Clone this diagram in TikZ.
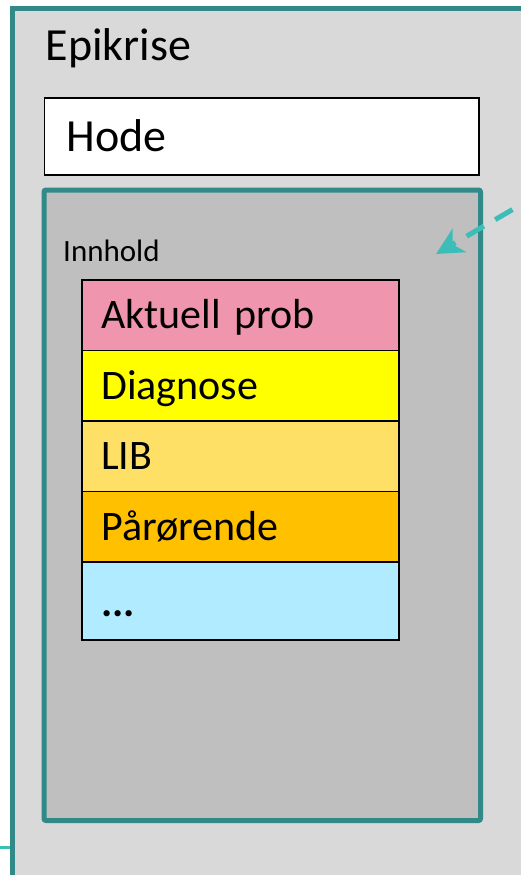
\documentclass[tikz,border=0pt]{standalone}
\usepackage{fontspec}
\setmainfont{Carlito}
\usetikzlibrary{arrows.meta}
\definecolor{tealborder}{RGB}{49,138,136}
\definecolor{tealarrow}{RGB}{60,189,184}
\definecolor{outerfill}{RGB}{217,217,217}
\definecolor{innerfill}{RGB}{191,191,191}
\definecolor{pinkrow}{RGB}{240,149,174}
\definecolor{yellowrow}{RGB}{255,255,0}
\definecolor{lightyellowrow}{RGB}{255,224,102}
\definecolor{orangerow}{RGB}{255,192,0}
\definecolor{bluerow}{RGB}{176,235,255}
\begin{document}
\begin{tikzpicture}[x=1pt,y=-1pt,
  outerbox/.style={draw=tealborder, line width=5pt, fill=outerfill, inner sep=0pt, anchor=north west},
  innerbox/.style={draw=tealborder, line width=5pt, fill=innerfill, rounded corners=2pt, inner sep=0pt, anchor=north west},
  headbox/.style={draw=black, line width=1.8pt, fill=white, inner sep=0pt, anchor=north west,
    minimum width=434.5pt, minimum height=77pt, text width=389.5pt, align=left,
    text height=34pt, text depth=3pt, font=\fontsize{46}{50}\selectfont},
  rowbox/.style={draw=black, line width=1.5pt, inner sep=0pt, anchor=north west,
    minimum width=317.3pt, minimum height=70.5pt, text width=278.3pt, align=left,
    text height=31.5pt, text depth=4pt, font=\fontsize{42}{46}\selectfont},
  lastrow/.style={rowbox, minimum height=78pt, text height=35pt, text depth=3pt},
  title/.style={inner sep=0pt, anchor=base west},
  pointer/.style={draw=tealarrow, line width=5pt, dash pattern=on 20pt off 13pt,
    -{Stealth[length=27pt,width=27pt,inset=8pt]}},
  link/.style={draw=tealarrow, line width=3pt}
]
\useasboundingbox (0,0) rectangle (520,875);
% outer box
\node[outerbox, minimum width=540pt, minimum height=868.5pt] (epikrise) at (9.5,6) {};
\node[title, font=\fontsize{46}{50}\selectfont] (epititle) at (45.5,61) {Epikrise};
% head
\node[headbox] (hode) at (43.5,97) {Hode};
% inner box
\node[innerbox, minimum width=436.5pt, minimum height=630.5pt] (innhold) at (41.5,187.5) {};
\node[title, font=\fontsize{31}{34}\selectfont] (innholdtitle) at (63,261) {Innhold};
% stack
\node[rowbox, fill=pinkrow] (aktuell) at (81,279) {Aktuell prob};
\node[rowbox, fill=yellowrow] (diagnose) at (81,349.5) {Diagnose};
\node[rowbox, fill=lightyellowrow] (lib) at (81,420) {LIB};
\node[rowbox, fill=orangerow] (parorende) at (81,490.5) {Pårørende};
\node[lastrow, fill=bluerow] (mer) at (81,561) {\textbf{...}};
% dashed pointer
\coordinate (pointerstart) at (541,193);
\coordinate (pointerend) at (436,254);
\draw[pointer] (pointerstart) -- (pointerend);
% link entering at bottom left
\coordinate (linkstart) at (-5,847);
\draw[link] (linkstart) -- (linkstart -| epikrise.west);
\end{tikzpicture}
\end{document}
